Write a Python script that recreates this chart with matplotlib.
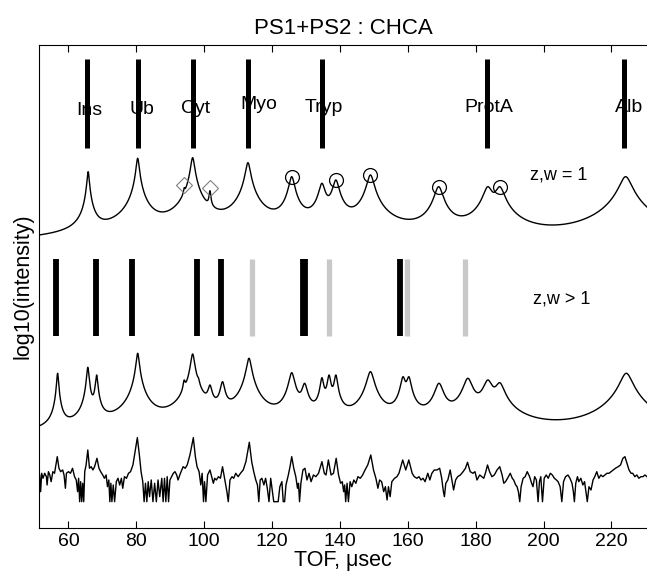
import numpy as np
import matplotlib
matplotlib.use("Agg")
import matplotlib.pyplot as plt

plt.rcParams['font.family'] = ['Liberation Sans', 'DejaVu Sans']

# ---- data (TOF in usec, levels in arbitrary log10 units) ----
# upper trace : z,w = 1 peaks
upper_tof = [65.8, 80.4, 94.1, 96.6, 101.7, 112.9, 125.8, 134.7, 138.8, 149.0, 169.1, 183.6, 187.1, 224.2]
upper_level = [356.0, 369.4, 340.0, 370.0, 337.0, 365.0, 351.0, 344.4, 347.7, 352.7, 341.0, 341.0, 341.0, 351.0]
upper_width = [0.30, 0.39, 0.20, 0.50, 0.25, 0.62, 0.72, 0.79, 0.82, 0.90, 1.07, 1.20, 1.23, 1.57]
upper_floor = 280.0

# middle trace : z,w > 1 peaks
middle_tof = [56.8, 65.7, 68.3, 80.4, 94.1, 96.6, 98.3, 101.7, 105.4, 113.2, 125.8, 129.6, 134.7, 136.8,
              138.8, 149.0, 158.6, 160.3, 169.2, 177.7, 183.6, 187.1, 224.4]
middle_level = [154.4, 160.4, 152.7, 174.4, 147.7, 173.7, 150.0, 142.7, 146.0, 169.4, 155.0, 144.4, 150.0, 152.7,
                152.7, 156.0, 151.0, 151.0, 144.4, 149.4, 147.7, 145.0, 154.4]
middle_width = [0.25, 0.30, 0.31, 0.39, 0.30, 0.50, 0.30, 0.54, 0.57, 0.62, 0.72, 0.70, 0.45, 0.45,
                0.45, 0.90, 0.62, 0.62, 1.07, 1.15, 1.20, 1.23, 1.57]
middle_floor = 86.0

# measured spectrum (bottom)
measured_tof = [
    51.5, 51.8, 52.1, 52.5, 53.0, 53.5, 53.7, 54.1, 54.5, 54.9, 55.4, 55.9, 56.7, 57.2, 57.7, 58.3, 58.7,
    59.1, 59.4, 60.0, 60.6, 61.2, 61.8, 62.3, 62.7, 63.0, 63.3, 63.6, 63.9, 64.2, 64.5, 64.8, 65.2, 65.7,
    66.2, 66.7, 67.2, 67.7, 68.4, 69.0, 69.5, 70.1, 70.6, 71.1, 71.5, 71.9, 72.2, 72.5, 72.8, 73.2, 73.6,
    74.1, 74.6, 75.1, 75.6, 76.0, 76.5, 77.1, 77.7, 78.3, 79.0, 79.7, 80.3, 80.9, 81.4, 81.9, 82.3, 82.7,
    83.1, 83.5, 83.9, 84.4, 84.9, 85.4, 85.9, 86.4, 86.9, 87.5, 87.9, 88.3, 88.7, 89.1, 89.5, 89.9, 90.4,
    90.9, 91.4, 91.9, 92.3, 93.0, 93.8, 94.4, 95.0, 95.8, 96.8, 97.4, 97.9, 98.5, 99.0, 99.4, 99.8, 100.1,
    100.5, 101.0, 101.7, 102.2, 102.7, 103.1, 103.6, 104.2, 104.8, 105.4, 106.1, 106.7, 107.1, 107.6,
    108.2, 108.7, 109.3, 110.0, 110.7, 111.5, 112.3, 113.3, 114.0, 114.6, 115.2, 115.7, 116.1, 116.5,
    117.0, 117.6, 118.1, 118.6, 119.1, 119.6, 120.1, 120.5, 121.8, 122.3, 122.9, 123.3, 123.7, 124.1,
    124.8, 125.3, 125.8, 126.4, 127.0, 127.5, 127.8, 128.1, 128.5, 129.1, 129.7, 130.3, 130.9, 131.5,
    132.2, 132.9, 133.7, 134.7, 135.4, 135.9, 136.6, 137.4, 138.1, 138.9, 139.6, 140.2, 140.7, 141.1,
    141.4, 141.7, 142.1, 142.5, 143.0, 143.5, 144.1, 144.7, 145.3, 146.0, 146.7, 147.4, 148.2, 149.1,
    149.9, 150.6, 151.2, 151.7, 152.3, 152.9, 153.4, 153.9, 154.3, 154.8, 155.3, 156.1, 156.8, 157.4,
    158.5, 159.4, 160.3, 161.3, 161.9, 162.7, 163.3, 163.9, 164.5, 165.1, 165.9, 166.5, 167.1, 167.8,
    168.6, 169.4, 170.0, 170.5, 170.8, 171.2, 171.8, 172.5, 173.0, 173.5, 174.1, 174.7, 175.5, 176.3,
    177.0, 177.6, 178.4, 179.2, 179.8, 180.4, 181.2, 181.8, 182.4, 183.0, 183.5, 184.1, 184.8, 185.5,
    186.3, 187.1, 187.8, 188.3, 188.8, 189.4, 190.2, 190.8, 191.2, 191.8, 192.2, 192.6, 193.0, 193.4,
    194.0, 194.6, 195.2, 195.9, 196.5, 196.9, 197.4, 197.9, 198.4, 198.8, 199.2, 199.7, 200.2, 200.8,
    201.4, 202.0, 202.6, 203.2, 203.8, 204.3, 204.9, 205.4, 205.9, 206.5, 207.2, 207.8, 208.4, 208.8,
    209.1, 209.5, 210.0, 210.4, 211.0, 211.6, 212.1, 212.5, 212.9, 213.4, 214.0, 214.6, 215.1, 215.7,
    216.3, 216.9, 217.5, 218.1, 218.7, 219.3, 219.9, 220.5, 221.2, 222.0, 222.7, 223.4, 224.0, 224.6,
    225.2, 225.8, 226.3, 226.9, 227.5, 228.1, 228.7, 229.3, 229.9, 230.5,
]
measured_level = [
    52.7, 36.0, 54.4, 49.4, 54.4, 51.0, 42.7, 56.0, 52.7, 46.0, 56.0, 54.4, 71.0, 59.4, 56.0, 57.7, 52.7,
    39.4, 54.4, 56.0, 54.4, 59.4, 51.0, 47.7, 36.0, 49.4, 26.0, 46.0, 26.0, 44.4, 26.0, 56.0, 62.7, 77.7,
    59.4, 61.0, 57.7, 61.0, 69.4, 59.4, 56.0, 52.7, 49.4, 52.7, 41.0, 47.7, 26.0, 44.4, 26.0, 42.7, 26.0,
    46.0, 49.4, 42.7, 49.4, 39.4, 51.0, 49.4, 54.4, 56.0, 62.7, 77.7, 90.0, 72.7, 56.0, 46.0, 26.0, 44.4,
    26.0, 46.0, 31.0, 47.7, 26.0, 44.4, 26.0, 47.7, 31.0, 49.4, 26.0, 49.4, 26.0, 51.0, 26.0, 47.7, 51.0,
    54.4, 56.0, 52.7, 47.7, 54.4, 61.0, 59.4, 62.7, 72.7, 90.0, 71.0, 61.0, 56.0, 42.7, 54.4, 26.0, 46.0,
    26.0, 52.7, 57.7, 51.0, 44.4, 49.4, 47.7, 51.0, 49.4, 61.0, 47.7, 36.0, 26.0, 47.7,
    51.0, 49.4, 54.4, 51.0, 54.4, 57.7, 66.0, 85.4, 66.0, 56.0, 47.7, 42.7, 26.0, 47.7,
    49.4, 42.7, 49.4, 39.4, 26.0, 49.4, 36.0, 26.0, 26.0, 41.0, 46.0, 26.0, 26.0, 42.7,
    52.7, 61.0, 71.0, 59.4, 51.0, 39.4, 44.4, 26.0, 44.4, 57.7, 59.4, 47.7, 54.4, 46.0,
    52.7, 51.0, 54.4, 66.0, 54.4, 52.7, 67.7, 52.7, 54.4, 69.4, 52.7, 44.4, 46.0, 36.0,
    42.7, 26.0, 44.4, 26.0, 46.0, 41.0, 47.7, 44.4, 51.0, 49.4, 52.7, 57.7, 62.7, 72.7,
    57.7, 49.4, 39.4, 47.7, 46.0, 36.0, 41.0, 27.7, 41.0, 31.0, 46.0, 49.4, 51.0, 54.4,
    67.7, 57.7, 67.7, 54.4, 51.0, 49.4, 51.0, 47.7, 49.4, 46.0, 54.4, 47.7, 54.4, 57.7,
    57.7, 59.4, 49.4, 36.0, 31.0, 44.4, 47.7, 57.7, 47.7, 37.7, 47.7, 51.0, 52.7, 56.0,
    59.4, 65.4, 56.0, 54.4, 56.0, 47.7, 52.7, 51.0, 49.4, 56.0, 62.7, 56.0, 51.0, 52.7,
    57.7, 61.0, 52.7, 44.4, 46.0, 49.4, 54.4, 49.4, 47.7, 42.7, 41.0, 36.0, 26.0, 41.0,
    49.4, 51.0, 56.0, 51.0, 44.4, 41.0, 51.0, 47.7, 26.0, 46.0, 51.0, 26.0, 49.4, 52.7,
    49.4, 54.4, 52.7, 49.4, 47.7, 46.0, 41.0, 26.0, 46.0, 51.0, 52.7, 49.4, 44.4, 36.0,
    26.0, 44.4, 51.0, 46.0, 49.4, 42.7, 46.0, 36.0, 26.0, 41.0, 37.7, 47.7, 51.0, 56.0,
    49.4, 52.7, 51.0, 52.7, 54.4, 54.4, 56.0, 57.7, 59.4, 61.0, 62.7, 69.4, 71.0, 64.4,
    57.7, 54.4, 54.4, 51.0, 52.7, 49.4, 51.0, 51.0, 52.7, 51.0,
]

# assigned proteins (z,w = 1)
protein_names = ['Ins', 'Ub', 'Cyt', 'Myo', 'Tryp', 'ProtA', 'Alb']
protein_tof = [65.5, 80.4, 96.6, 113.0, 134.6, 183.4, 223.7]
label_tof = [66.2, 81.6, 97.5, 116.1, 135.2, 184.0, 225.2]
label_level = [412.7, 413.7, 414.4, 418.7, 416.0, 416.0, 416.0]

# z,w > 1 assignments
multi_black_tof = [56.3, 68.0, 78.8, 97.8, 105.1, 129.2, 129.8, 157.6]
multi_gray_tof = [114.2, 136.8, 159.8, 176.8]

circle_tof = [125.8, 138.8, 149.0, 169.1, 187.1]
diamond_tof = [94.1, 101.7]

# ---- layout ----
UPPER_BAR = (379.7, 468.2)
MIDDLE_BAR = (191.2, 268.7)
SCALE = 25.0


def log_spectrum(tof, centers, widths, levels, floor):
    centers = np.asarray(centers, float)
    widths = np.asarray(widths, float)
    target = 10 ** (np.asarray(levels, float) / SCALE)
    bg = 10 ** (floor / SCALE)
    amp = target.copy()
    shape = 1.0 / (1.0 + ((centers[:, None] - centers[None, :]) / widths[None, :]) ** 2)
    for _ in range(200):
        at_peaks = shape @ amp + bg
        amp = np.maximum(amp * target / at_peaks, 1e-12)
    total = (amp / (1.0 + ((tof[:, None] - centers) / widths) ** 2)).sum(1) + bg
    return SCALE * np.log10(total)


tof = np.linspace(51.0, 231.0, 4000)
upper = log_spectrum(tof, upper_tof, upper_width, upper_level, upper_floor)
middle = log_spectrum(tof, middle_tof, middle_width, middle_level, middle_floor)

fig = plt.figure(figsize=(6.47, 5.75), dpi=100)
ax = fig.add_axes([0.0607, 0.0823, 0.9393, 0.8395])

# labels (under the bars)
for name, x, y in zip(protein_names, label_tof, label_level):
    ax.text(x, y, name, ha='center', va='baseline', fontsize=14, zorder=1)

ax.vlines(protein_tof, *UPPER_BAR, colors='black', linewidth=3.6, zorder=2)
ax.vlines(multi_gray_tof, *MIDDLE_BAR, colors='#c8c8c8', linewidth=3.8, zorder=2)
ax.vlines(multi_black_tof, *MIDDLE_BAR, colors='black', linewidth=4.2, zorder=2)

ax.plot(tof, upper, color='black', linewidth=1.0, zorder=3)
ax.plot(tof, middle, color='black', linewidth=1.0, zorder=3)
ax.plot(measured_tof, measured_level, color='black', linewidth=1.0, zorder=3)

ax.plot(circle_tof, np.interp(circle_tof, tof, upper), linestyle='none', marker='o',
        markersize=10, markerfacecolor='none', markeredgecolor='black', markeredgewidth=0.9, zorder=4)
ax.plot(diamond_tof, np.interp(diamond_tof, tof, upper) + 3, linestyle='none', marker='D',
        markersize=8, markerfacecolor='none', markeredgecolor='#808080', markeredgewidth=0.8, zorder=4)

ax.text(196.1, 348.4, 'z,w = 1', fontsize=13, va='baseline')
ax.text(196.8, 224.4, 'z,w > 1', fontsize=13, va='baseline')

ax.set_xlim(51.4, 230.5)
ax.set_ylim(0, 482.7)
ax.set_xticks(np.arange(60, 221, 20))
ax.set_yticks([])
ax.tick_params(axis='x', direction='in', top=True, length=5, width=0.8, labelsize=14, pad=4)
ax.spines['right'].set_visible(False)
for s in ('left', 'top', 'bottom'):
    ax.spines[s].set_linewidth(0.8)

ax.set_xlabel('TOF, \u03bcsec', fontsize=15.5, labelpad=0)
ax.set_ylabel('log10(intensity)', fontsize=15.5, labelpad=4)
ax.set_title('PS1+PS2 : CHCA', fontsize=16, pad=8)

fig.savefig('out.png', dpi=100)
